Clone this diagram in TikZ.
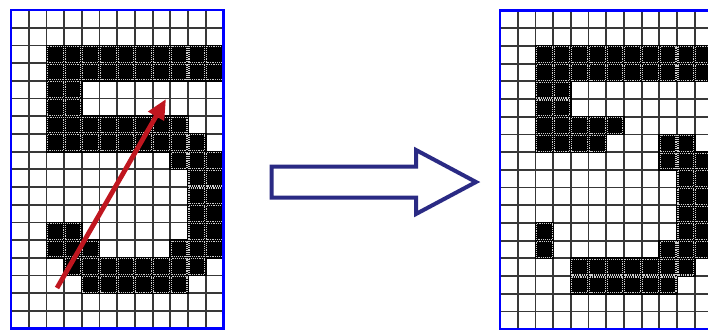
\documentclass[tikz,border=0pt]{standalone}
\usetikzlibrary{arrows.meta}
\definecolor{gridblue}{RGB}{0,0,255}
\definecolor{arrowred}{RGB}{192,22,31}
\definecolor{navy}{RGB}{42,42,132}
\tikzset{
  gridline/.style={draw=black!78, line width=1.35pt},
  pixfill/.style={fill=black},
  pixdots/.style={draw=white!80!black, line width=0.8pt, dash pattern=on 0.7pt off 0.7pt},
  gridframe/.style={draw=gridblue, line width=1.7pt},
  strokearrow/.style={draw=arrowred, line width=3.6pt, -{Triangle[length=15pt,width=13pt]}},
  bigarrow/.style={draw=navy, line width=3pt, line join=miter, fill=white}
}
\newcommand{\cellsz}{17.7}
\newcommand{\drawpixgrid}[3]{%
  % #1 = x origin, #2 = y origin, #3 = runs row/start/end
  \foreach \gx in {0,...,12}{
    \draw[gridline] (#1+\gx*\cellsz,#2) -- (#1+\gx*\cellsz,#2+18*\cellsz);
  }
  \foreach \gy in {0,...,18}{
    \draw[gridline] (#1,#2+\gy*\cellsz) -- (#1+12*\cellsz,#2+\gy*\cellsz);
  }
  \foreach \rr/\aa/\bb in {#3}{
    \foreach \cc in {\aa,...,\bb}{
      \fill[pixfill] (#1+\cc*\cellsz-0.9,#2+\rr*\cellsz-0.9) rectangle (#1+\cc*\cellsz+\cellsz+0.9,#2+\rr*\cellsz+\cellsz+0.9);
    }
  }
  \foreach \rr/\aa/\bb in {#3}{
    \foreach \cc in {\aa,...,\bb}{
      \draw[pixdots] (#1+\cc*\cellsz+1.0,#2+\rr*\cellsz+1.0) rectangle (#1+\cc*\cellsz+\cellsz-1.0,#2+\rr*\cellsz+\cellsz-1.0);
    }
  }
  \draw[gridframe] (#1,#2) rectangle (#1+12*\cellsz,#2+18*\cellsz);
}
\begin{document}
\begin{tikzpicture}[x=0.75pt,y=-0.75pt]
\useasboundingbox (0,0) rectangle (708,329);
\clip (0,0) rectangle (708,329);
\fill[white] (0,0) rectangle (708,329);
% left grid
\drawpixgrid{11}{10}{2/2/11,3/2/11,4/2/3,5/2/3,6/2/9,7/2/10,8/9/11,9/10/11,10/10/11,11/10/11,12/2/3,12/10/11,13/2/4,13/9/11,14/3/10,15/4/9}
% right grid
\drawpixgrid{500}{10.5}{2/2/11,3/2/11,4/2/3,5/2/3,6/2/6,7/2/5,7/9/10,8/9/11,9/10/11,10/10/11,11/10/11,12/2/2,12/10/11,13/2/2,13/9/11,14/4/10,15/4/9}
% red stroke arrow
\coordinate (rs) at (57,288);
\coordinate (re) at (166,99);
\draw[strokearrow] (rs) -- (re);
% big hollow arrow
\draw[bigarrow] (271.5,166.5) -- (416,166.5) -- (416,150) -- (476,182) -- (416,214) -- (416,197.5) -- (271.5,197.5) -- cycle;
\end{tikzpicture}
\end{document}
